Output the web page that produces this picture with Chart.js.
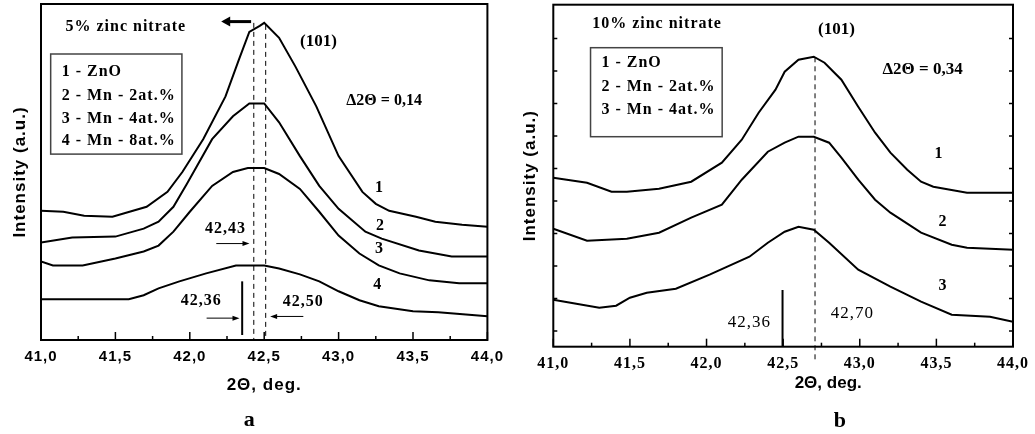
<!DOCTYPE html>
<html lang="en">
<head>
<meta charset="UTF-8">
<script src="https://cdn.jsdelivr.net/npm/chart.js"></script>
<title>ZnO (101) peak shift</title>
<style>
    body { margin: 0; background: #fff; }
    #wrap { position: relative; width: 1035px; height: 434px; }
    .box { position: absolute; top: 0; height: 434px; }
</style>
</head>
<body>
<div id="wrap">
    <div class="box" style="left:0;width:510px"><canvas id="chartA"></canvas></div>
    <div class="box" style="left:510px;width:525px"><canvas id="chartB"></canvas></div>
</div>
<script>
    // ---- panel a : 5% zinc nitrate ----
    const namesA = ['1 - ZnO', '2 - Mn - 2at.%', '3 - Mn - 4at.%', '4 - Mn - 8at.%'];
    const xA1 = [41.00, 41.15, 41.29, 41.48, 41.71, 41.85, 41.95, 42.09, 42.24, 42.33, 42.40, 42.47, 42.50, 42.60, 42.71, 42.85, 43.00, 43.16, 43.25, 43.34, 43.52, 43.65, 43.83, 44.00];
    const yA1 = [130, 129, 125, 124, 134, 149, 169, 202, 245, 282, 310, 316, 319, 304, 275, 235, 185, 149, 137, 130, 124, 119, 116, 114];
    const xA2 = [41.00, 41.21, 41.50, 41.69, 41.79, 41.89, 41.98, 42.15, 42.29, 42.40, 42.50, 42.60, 42.74, 42.87, 43.00, 43.18, 43.29, 43.54, 43.76, 44.00];
    const yA2 = [98, 103, 104, 112, 119, 134, 157, 202, 225, 238, 238, 219, 185, 155, 132, 109, 102, 90, 84, 84];
    const xA3 = [41.00, 41.08, 41.28, 41.50, 41.69, 41.79, 41.89, 42.00, 42.15, 42.29, 42.39, 42.50, 42.60, 42.74, 42.87, 43.00, 43.14, 43.27, 43.41, 43.61, 43.81, 44.00];
    const yA3 = [79, 75, 75, 82, 89, 95, 109, 129, 155, 169, 173, 173, 167, 152, 129, 105, 87, 75, 67, 60, 57, 57];
    const xA4 = [41.00, 41.59, 41.69, 41.79, 41.93, 42.11, 42.31, 42.40, 42.50, 42.60, 42.74, 42.87, 43.00, 43.14, 43.27, 43.50, 43.67, 44.00];
    const yA4 = [41, 41, 45, 52, 59, 67, 75, 75, 75, 72, 66, 59, 49, 40, 34, 29, 28, 24];

    // ---- panel b : 10% zinc nitrate ----
    const namesB = ['1 - ZnO', '2 - Mn - 2at.%', '3 - Mn - 4at.%'];
    const xB1 = [41.00, 41.22, 41.38, 41.48, 41.69, 41.90, 42.10, 42.23, 42.34, 42.45, 42.51, 42.60, 42.70, 42.77, 42.88, 42.99, 43.10, 43.20, 43.31, 43.40, 43.48, 43.70, 44.00];
    const yB1 = [169, 164, 155, 155, 158, 165, 184, 207, 234, 257, 275, 287, 290, 284, 267, 240, 214, 194, 177, 165, 160, 154, 154];
    const xB2 = [41.00, 41.22, 41.48, 41.69, 41.90, 42.10, 42.23, 42.40, 42.51, 42.60, 42.70, 42.80, 42.88, 42.99, 43.10, 43.20, 43.40, 43.60, 43.70, 44.00];
    const yB2 = [118, 106, 108, 114, 129, 142, 167, 195, 204, 210, 210, 204, 189, 167, 147, 134, 114, 102, 99, 97];
    const xB3 = [41.00, 41.15, 41.30, 41.41, 41.50, 41.61, 41.80, 42.02, 42.28, 42.40, 42.51, 42.60, 42.70, 42.80, 42.99, 43.20, 43.40, 43.60, 43.85, 44.00];
    const yB3 = [47, 43, 39, 41, 49, 54, 58, 72, 90, 104, 115, 120, 117, 104, 77, 60, 45, 32, 30, 25];
    const yTicksB = [15.7, 48.2, 80.7, 113.2, 145.7, 178.2, 210.7, 243.2, 275.7, 308.2];

    const SERIF = "'Liberation Serif', 'Times New Roman', serif";
    const SANS = "'Liberation Sans', Arial, sans-serif";

    function pts(xs, ys) {
        return xs.map(function (x, i) { return { x: x, y: ys[i] }; });
    }
    function curve(xs, ys) {
        return { data: pts(xs, ys), borderColor: '#000', borderWidth: 2, pointRadius: 0, tension: 0, fill: false };
    }
    function fmt(v) {
        return v.toFixed(1).replace('.', ',');
    }

    // draw helpers
    function text(ctx, s, x, y, font, align) {
        ctx.font = font;
        ctx.textAlign = align || 'center';
        ctx.textBaseline = 'middle';
        ctx.fillText(s, x, y);
    }
    function arrow(ctx, x1, x2, y, lw, len, hw) {
        const d = Math.sign(x2 - x1);
        ctx.lineWidth = lw;
        ctx.beginPath(); ctx.moveTo(x1, y); ctx.lineTo(x2 - d * len * 0.7, y); ctx.stroke();
        ctx.beginPath(); ctx.moveTo(x2, y); ctx.lineTo(x2 - d * len, y - hw); ctx.lineTo(x2 - d * len, y + hw); ctx.closePath(); ctx.fill();
    }
    function vline(ctx, x, y1, y2, dash) {
        ctx.lineWidth = dash ? 1 : 2;
        ctx.setLineDash(dash ? [5, 4] : []);
        ctx.beginPath(); ctx.moveTo(x, y1); ctx.lineTo(x, y2); ctx.stroke();
        ctx.setLineDash([]);
    }

    // frame, inward ticks, and the notes drawn on top of the curves
    function decor(draw, sideTicks, spacing) {
        return {
            id: 'decor',
            beforeDraw: function (chart) { chart.ctx.letterSpacing = spacing; },
            beforeDatasetsDraw: function (chart) { chart.ctx.letterSpacing = '0px'; },
            afterDatasetsDraw: function (chart) {
                const ctx = chart.ctx, sx = chart.scales.x, sy = chart.scales.y, a = chart.chartArea;
                const X = function (v) { return sx.getPixelForValue(v); };
                const Y = function (v) { return sy.getPixelForValue(v); };
                ctx.save();
                ctx.strokeStyle = '#000'; ctx.fillStyle = '#000';
                ctx.lineWidth = 2;
                ctx.strokeRect(a.left, a.top, a.right - a.left, a.bottom - a.top);
                ctx.lineWidth = 1.5;
                sx.ticks.forEach(function (t, i) {
                    const p = X(t.value);
                    ctx.beginPath(); ctx.moveTo(p, a.bottom); ctx.lineTo(p, a.bottom - 8); ctx.stroke();
                    if (i < sx.ticks.length - 1) {
                        const m = X((t.value + sx.ticks[i + 1].value) / 2);
                        ctx.beginPath(); ctx.moveTo(m, a.bottom); ctx.lineTo(m, a.bottom - 4); ctx.stroke();
                    }
                });
                if (sideTicks) {
                    sy.ticks.forEach(function (t) {
                        const p = Y(t.value);
                        ctx.beginPath(); ctx.moveTo(a.left, p); ctx.lineTo(a.left + 4, p); ctx.stroke();
                        ctx.beginPath(); ctx.moveTo(a.right, p); ctx.lineTo(a.right - 4, p); ctx.stroke();
                    });
                }
                draw(ctx, X, Y, a);
                ctx.restore();
            }
        };
    }

    function legendBox(ctx, X, Y, x1, y1, x2, y2, tx, names, rows) {
        ctx.lineWidth = 1.5;
        ctx.strokeStyle = '#444';
        ctx.strokeRect(X(x1), Y(y1), X(x2) - X(x1), Y(y2) - Y(y1));
        ctx.strokeStyle = '#000';
        ctx.letterSpacing = '1px';
        names.forEach(function (n, i) {
            text(ctx, n, X(tx), Y(rows[i]), 'bold 16px ' + SERIF, 'left');
        });
        ctx.letterSpacing = '0px';
    }

    function drawA(ctx, X, Y, a) {
        vline(ctx, X(42.43), Y(319), a.bottom, true);
        vline(ctx, X(42.51), Y(317), a.bottom, true);
        vline(ctx, X(42.352), Y(59), Y(5), false);
        arrow(ctx, X(42.412), X(42.211), Y(320.3), 3, 9, 5);
        arrow(ctx, X(42.178), X(42.401), Y(97), 1, 7, 2.5);
        arrow(ctx, X(42.113), X(42.334), Y(22), 1, 7, 2.5);
        arrow(ctx, X(42.763), X(42.540), Y(23.7), 1, 7, 2.5);
        ctx.letterSpacing = '1px';
        text(ctx, '42,43', X(42.24), Y(112), 'bold 16px ' + SERIF);
        text(ctx, '42,36', X(42.077), Y(39.3), 'bold 16px ' + SERIF);
        text(ctx, '42,50', X(42.763), Y(38.7), 'bold 16px ' + SERIF);
        text(ctx, '5% zinc nitrate', X(41.57), Y(314.7), 'bold 16px ' + SERIF);
        ctx.letterSpacing = '0px';
        text(ctx, '(101)', X(42.865), Y(299.7), 'bold 17px ' + SERIF);
        text(ctx, '\u03942\u0398 = 0,14', X(43.306), Y(240.3), 'bold 16px ' + SERIF);
        text(ctx, '1', X(43.272), Y(152.7), 'bold 16px ' + SERIF);
        text(ctx, '2', X(43.279), Y(114.7), 'bold 16px ' + SERIF);
        text(ctx, '3', X(43.272), Y(91.3), 'bold 16px ' + SERIF);
        text(ctx, '4', X(43.259), Y(55.3), 'bold 16px ' + SERIF);
        legendBox(ctx, X, Y, 41.065, 287.7, 41.947, 187, 41.139, namesA, [269.3, 246, 222.7, 200.3]);
        text(ctx, 'a', X(42.40), a.bottom + 80, 'bold 22px ' + SERIF);
    }

    function drawB(ctx, X, Y, a) {
        vline(ctx, X(42.708), Y(289.4), a.bottom + 15, true);
        vline(ctx, X(42.496), Y(56.7), a.bottom, false);
        ctx.letterSpacing = '1px';
        text(ctx, '42,36', X(42.28), Y(24), '17px ' + SERIF);
        text(ctx, '42,70', X(42.952), Y(33.4), '17px ' + SERIF);
        text(ctx, '10% zinc nitrate', X(41.677), Y(322.7), 'bold 16px ' + SERIF);
        ctx.letterSpacing = '0px';
        text(ctx, '(101)', X(42.848), Y(317.4), 'bold 17px ' + SERIF);
        text(ctx, '\u03942\u0398 = 0,34', X(43.41), Y(277.4), 'bold 17px ' + SERIF);
        text(ctx, '1', X(43.514), Y(192.7), 'bold 16px ' + SERIF);
        text(ctx, '2', X(43.54), Y(125), 'bold 16px ' + SERIF);
        text(ctx, '3', X(43.54), Y(60.7), 'bold 16px ' + SERIF);
        legendBox(ctx, X, Y, 41.243, 299, 42.102, 210, 41.314, namesB, [283.4, 260, 236.7]);
        text(ctx, '2\u0398, deg.', X(42.794), a.bottom + 36.5, 'bold 17px ' + SANS);
        text(ctx, 'b', X(42.87), a.bottom + 75, 'bold 22px ' + SERIF);
    }

    function makeChart(id, sets, ymax, pad, yWidth, xHeight, tickFont, xTitle, yTicks, draw) {
        const config = {
            type: 'line',
            data: { datasets: sets },
            options: {
                responsive: true,
                maintainAspectRatio: false,
                animation: false,
                devicePixelRatio: 1,
                layout: { padding: pad },
                plugins: { legend: { display: false }, tooltip: { enabled: false } },
                scales: {
                    x: {
                        type: 'linear', min: 41, max: 44,
                        ticks: { stepSize: 0.5, padding: 8, color: '#000', font: tickFont, callback: fmt, maxRotation: 0, autoSkip: false },
                        grid: { display: false, drawTicks: false },
                        border: { display: false },
                        title: { display: !!xTitle, text: xTitle || '', color: '#000', font: { family: SANS, size: 17, weight: 'bold' }, padding: 0 },
                        afterFit: function (s) { s.height = xHeight; }
                    },
                    y: {
                        type: 'linear', min: 0, max: ymax,
                        ticks: { display: false },
                        grid: { display: false, drawTicks: false },
                        border: { display: false },
                        title: { display: true, text: 'Intensity (a.u.)', color: '#000', font: { family: SANS, size: 17, weight: 'bold' }, padding: { top: 10, bottom: 0 } },
                        afterBuildTicks: function (s) { s.ticks = yTicks.map(function (v) { return { value: v }; }); },
                        afterFit: function (s) { s.width = yWidth; }
                    }
                }
            },
            plugins: [decor(draw, yTicks.length > 0, '1px')]
        };
        return new Chart(document.getElementById(id), config);
    }

    makeChart('chartA',
        [curve(xA1, yA1), curve(xA2, yA2), curve(xA3, yA3), curve(xA4, yA4)],
        338, { left: 0, top: 4, right: 21.5, bottom: 38 }, 41, 56,
        { family: SANS, size: 15, weight: 'bold' }, '2\u0398, deg.', [], drawA);

    makeChart('chartB',
        [curve(xB1, yB1), curve(xB2, yB2), curve(xB3, yB3)],
        342, { left: 0, top: 4.7, right: 19, bottom: 43.3 }, 43.3, 44,
        { family: SERIF, size: 16, weight: 'bold' }, null, yTicksB, drawB);
</script>
</body>
</html>
